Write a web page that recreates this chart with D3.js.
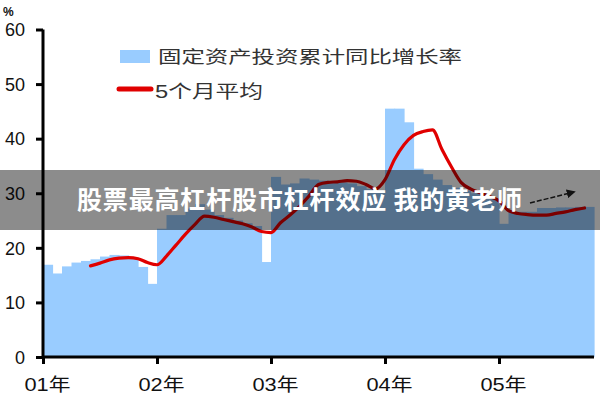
<!DOCTYPE html>
<html><head><meta charset="utf-8">
<script src="https://cdn.jsdelivr.net/npm/d3@7"></script>
<style>html,body{margin:0;padding:0;background:#fff;}svg{display:block;}</style>
</head><body>
<svg id="c" width="600" height="400"></svg>
<script>
// ---- data ----
const yearLabels = ["01年","02年","03年","04年","05年"];
const yTicks = [0,10,20,30,40,50,60];
// monthly cumulative YoY growth of fixed asset investment (%), Jan 01 .. Oct 05
const growth = [
  16.9,15.3,16.6,17.3,17.6,17.9,18.4,18.7,18.6,18.2,16.5,13.4,
  23.5,26.0,26.0,27.2,28.0,27.0,26.0,25.5,25.0,24.5,24.0,17.4,
  33.0,31.6,31.8,32.7,32.5,32.3,32.2,32.0,31.8,31.3,30.8,30.2,
  45.5,45.5,43.0,34.5,33.5,32.5,31.5,31.0,30.5,30.0,29.5,29.0,
  24.4,26.6,26.6,26.6,27.3,27.3,27.4,27.4,27.5,27.5
];
// 5-month average, from month index 5 onward
const avgStart = 5;
const avg5 = [
  16.7,17.2,17.8,18.1,18.2,18.0,17.3,16.9,
  18.5,20.5,22.5,24.3,25.8,25.6,25.2,24.8,24.4,23.8,23.0,22.8,
  24.6,26.0,27.6,29.5,31.6,32.0,32.1,32.3,32.2,31.6,30.8,32.5,
  36.2,38.9,40.6,41.3,41.6,38.0,34.8,32.0,30.8,30.1,29.4,28.6,
  26.8,26.3,26.1,26.0,26.0,26.3,26.6,27.0,27.3,27.4
];
const legendLabels = ["固定资产投资累计同比增长率","5个月平均"];
const bannerText = "股票最高杠杆股市杠杆效应 我的黄老师";

// ---- chart ----
const svg = d3.select("#c");
const x = d3.scaleLinear().domain([0,12]).range([43,157]);
const y = d3.scaleLinear().domain([0,60]).range([357,29.5]);
const font = "'Liberation Sans','Noto Sans CJK SC',sans-serif";

// bars as step area
const barG = svg.append("g");
barG.selectAll("rect").data(growth).join("rect")
  .attr("x", (d,i)=>x(i))
  .attr("width", (d,i)=>x(i+1)-x(i)+0.6)
  .attr("y", d=>y(d))
  .attr("height", d=>y(0)-y(d))
  .attr("fill","#99ccff");

// red line
const lineData = avg5.map((v,k)=>({i:k+avgStart, v}));
const line = d3.line().x(d=>x(d.i)).y(d=>y(d.v)).curve(d3.curveMonotoneX);
svg.append("path").datum(lineData.filter(d=>d.i<=57.6)).attr("d",line)
  .attr("fill","none").attr("stroke","#e00000").attr("stroke-width",3.2)
  .attr("stroke-linejoin","round").attr("stroke-linecap","round");

// axes
const yAxis = d3.axisLeft(y).tickValues(yTicks).tickSize(7).tickFormat(d3.format("d"));
const gy = svg.append("g").attr("transform",`translate(${x(0)},0)`).call(yAxis);
gy.select(".domain").attr("stroke","#000").attr("stroke-width",3).attr("d",`M0,${y(60)}V${y(0)}`);
gy.selectAll(".tick line").attr("stroke","#000").attr("stroke-width",3);
gy.selectAll(".tick text").attr("x",-18).attr("dy","0.35em")
  .style("font-family",font).style("font-size","18px").attr("fill","#111");

const xAxis = d3.axisBottom(x).tickValues([0,12,24,36,48]).tickSize(7)
  .tickFormat((d,i)=>yearLabels[i]);
const gx = svg.append("g").attr("transform",`translate(0,${y(0)})`).call(xAxis);
gx.select(".domain").attr("stroke","#000").attr("stroke-width",3).attr("d",`M${x(0)},0H${x(58)}`);
gx.selectAll(".tick line").attr("stroke","#000").attr("stroke-width",3);
gx.selectAll(".tick text").attr("x",4).attr("y",21).attr("dy","0.71em")
  .attr("textLength",46).attr("lengthAdjust","spacingAndGlyphs")
  .style("font-family",font).style("font-size","18px").attr("fill","#111");

// % unit
svg.append("text").attr("x",3).attr("y",16).text("%")
  .style("font-family",font).style("font-size","12px").style("font-weight","bold").attr("fill","#111");

// legend
svg.append("rect").attr("x",120).attr("y",50).attr("width",30).attr("height",13).attr("fill","#99ccff");
svg.append("text").attr("x",158).attr("y",63).text(legendLabels[0])
  .attr("textLength",304).attr("lengthAdjust","spacingAndGlyphs")
  .style("font-family","'Noto Sans CJK SC',sans-serif").style("font-size","17px").attr("fill","#333");
svg.append("line").attr("x1",119).attr("x2",151).attr("y1",89).attr("y2",89)
  .attr("stroke","#e00000").attr("stroke-width",5).attr("stroke-linecap","round");
svg.append("text").attr("x",155).attr("y",98).text(legendLabels[1])
  .attr("textLength",108).attr("lengthAdjust","spacingAndGlyphs")
  .style("font-family",font).style("font-size","18px").attr("fill","#333");

// arrow
const defs = svg.append("defs");
defs.append("marker").attr("id","ah").attr("viewBox","0 0 10 10").attr("refX",8).attr("refY",5)
  .attr("markerWidth",6).attr("markerHeight",6).attr("orient","auto")
  .append("path").attr("d","M0,0L10,5L0,10z").attr("fill","#222");
svg.append("line").attr("x1",530).attr("y1",203).attr("x2",574).attr("y2",192)
  .attr("stroke","#222").attr("stroke-width",1.5).attr("stroke-dasharray","5,2")
  .attr("marker-end","url(#ah)");

// banner overlay
svg.append("rect").attr("x",0).attr("y",170).attr("width",600).attr("height",60)
  .attr("fill","rgba(0,0,0,0.45)");
svg.append("text").attr("x",77).attr("y",209).text(bannerText)
  .attr("textLength",445).attr("lengthAdjust","spacing")
  .style("font-family","'Noto Sans CJK SC',sans-serif").style("font-size","25px")
  .style("font-weight","bold").attr("fill","#fff");
</script>
</body></html>
